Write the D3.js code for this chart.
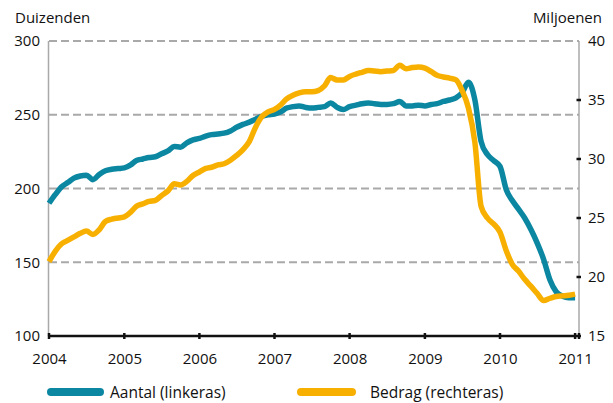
<!DOCTYPE html>
<html><head><meta charset="utf-8">
<script src="https://cdn.jsdelivr.net/npm/d3@7"></script>
<style>
html,body{margin:0;padding:0;background:#fff;}
text{font-family:"Open Sans",sans-serif;fill:#111;}
</style></head>
<body>
<svg id="chart" width="613" height="403"></svg>
<script>
// monthly series, starting January 2004
const startYear = 2004;
const aantal = [190,196,201,204,207,208.5,209,206,209.5,212,213,213.5,
  214,216,219,220,221,221.5,223.5,225.5,228.5,228,231,233,
  234,235.5,236.5,237,237.5,239,241.5,243.5,245,247,249,250,
  250.5,252,254.5,255.5,256,255,254.5,255,255.5,258,255,253.5,
  255.5,256.5,257.5,258,257.5,257,257,257.5,259,256,256,256.5,
  256,257,257.5,259,260,261.5,265,272,260,232,223,219,
  215,199,192,186,180,172,163,152,138,130,127,126,126];
const bedrag = [21.3,22.2,22.8,23.1,23.4,23.7,23.9,23.6,24.0,24.7,24.9,25.0,
  25.1,25.5,26.0,26.2,26.4,26.5,26.9,27.3,27.9,27.8,28.1,28.6,
  28.9,29.2,29.3,29.5,29.6,29.9,30.3,30.8,31.5,32.7,33.6,34.0,
  34.2,34.6,35.1,35.4,35.6,35.7,35.7,35.8,36.2,36.9,36.7,36.7,
  37.0,37.2,37.35,37.5,37.45,37.4,37.45,37.5,37.95,37.65,37.75,37.8,
  37.7,37.4,37.1,36.95,36.85,36.7,35.8,34.3,31.4,26.0,25.0,24.5,
  23.8,22.2,21.1,20.5,19.8,19.2,18.6,18.0,18.2,18.35,18.4,18.45,18.55];
const years = [2004,2005,2006,2007,2008,2009,2010,2011];
const leftTicks = [100,150,200,250,300];
const rightTicks = [15,20,25,30,35,40];
const gridTicks = [150,200,250,300];
const seriesNames = ["Aantal (linkeras)","Bedrag (rechteras)"];
const colors = ["#0b87a1","#f8b000"];

const svg = d3.select("#chart");
const L = 49, R = 579, T = 41, B = 336;
const FS = "15px";
const x = d3.scaleTime().domain([new Date(2004,0,1), new Date(2011,0,20)]).range([L,R]);
const yL = d3.scaleLinear().domain([100,300]).range([B,T]);
const yR = d3.scaleLinear().domain([15,40]).range([B,T]);
const dateOf = i => d3.timeMonth.offset(new Date(startYear,0,1), i);

// gridlines
svg.append("g").selectAll("line").data(gridTicks).join("line")
  .attr("x1",L).attr("x2",R).attr("y1",d=>yL(d)).attr("y2",d=>yL(d))
  .attr("stroke","#a9a9a9").attr("stroke-width",2).attr("stroke-dasharray","8,4");

// vertical axis lines
svg.append("line").attr("x1",L-0.5).attr("x2",L-0.5).attr("y1",T).attr("y2",B)
  .attr("stroke","#a9a9a9").attr("stroke-width",1.5);
svg.append("line").attr("x1",R).attr("x2",R).attr("y1",T).attr("y2",B)
  .attr("stroke","#a9a9a9").attr("stroke-width",1.5);

// left axis labels
const gl = svg.append("g").attr("transform",`translate(${L},0)`)
  .call(d3.axisLeft(yL).tickValues(leftTicks).tickSize(0).tickPadding(9));
gl.select(".domain").remove();
gl.selectAll("text").style("font-size",FS).attr("fill","#111").style("font-family","'Open Sans',sans-serif");

// right axis
const gr = svg.append("g").attr("transform",`translate(${R},0)`)
  .call(d3.axisRight(yR).tickValues(rightTicks).tickSize(0).tickPadding(9));
gr.select(".domain").remove();
gr.selectAll("text").style("font-size",FS).attr("fill","#111").style("font-family","'Open Sans',sans-serif");
svg.append("g").selectAll("line").data(rightTicks.filter(d=>d>15&&d<40)).join("line")
  .attr("x1",R-2.5).attr("x2",R+2).attr("y1",d=>yR(d)).attr("y2",d=>yR(d))
  .attr("stroke","#111").attr("stroke-width",2.5);

// bottom axis
const gx = svg.append("g").attr("transform",`translate(0,${B})`)
  .call(d3.axisBottom(x).tickValues(years.map(y=>new Date(y,0,1))).tickFormat(d3.timeFormat("%Y")).tickSizeInner(0).tickSizeOuter(0).tickPadding(17));
gx.select(".domain").attr("stroke","#111").attr("stroke-width",2.5).attr("d",`M${L},0H${R+2}`);
gx.selectAll("text").style("font-size",FS).attr("fill","#111").style("font-family","'Open Sans',sans-serif");
svg.append("g").selectAll("line").data(years.map(y=>new Date(y,0,1)).concat([new Date(2011,0,20)])).join("line")
  .attr("x1",d=>x(d)).attr("x2",d=>x(d)).attr("y1",B-3).attr("y2",B+3)
  .attr("stroke","#111").attr("stroke-width",2.5);

// axis titles
svg.append("text").attr("x",15).attr("y",23).style("font-size",FS).text("Duizenden");
svg.append("text").attr("x",602).attr("y",23).attr("text-anchor","end").style("font-size",FS).text("Miljoenen");

// lines
const lineL = d3.line().x((d,i)=>x(dateOf(i))).y(d=>yL(d)).curve(d3.curveMonotoneX);
const lineR = d3.line().x((d,i)=>x(dateOf(i))).y(d=>yR(d)).curve(d3.curveMonotoneX);
svg.append("path").datum(aantal).attr("d",lineL).attr("fill","none")
  .attr("stroke",colors[0]).attr("stroke-width",5.5).attr("stroke-linejoin","round").attr("stroke-linecap","butt");
svg.append("path").datum(bedrag).attr("d",lineR).attr("fill","none")
  .attr("stroke",colors[1]).attr("stroke-width",5.5).attr("stroke-linejoin","round").attr("stroke-linecap","butt");

// legend
const leg = [{x1:51,x2:100,tx:110},{x1:301,x2:352,tx:370}];
leg.forEach((l,i)=>{
  svg.append("line").attr("x1",l.x1).attr("x2",l.x2).attr("y1",392).attr("y2",392)
    .attr("stroke",colors[i]).attr("stroke-width",8).attr("stroke-linecap","round");
  svg.append("text").attr("x",l.tx).attr("y",397.5).style("font-size","15.5px").text(seriesNames[i]);
});
</script>
</body></html>
